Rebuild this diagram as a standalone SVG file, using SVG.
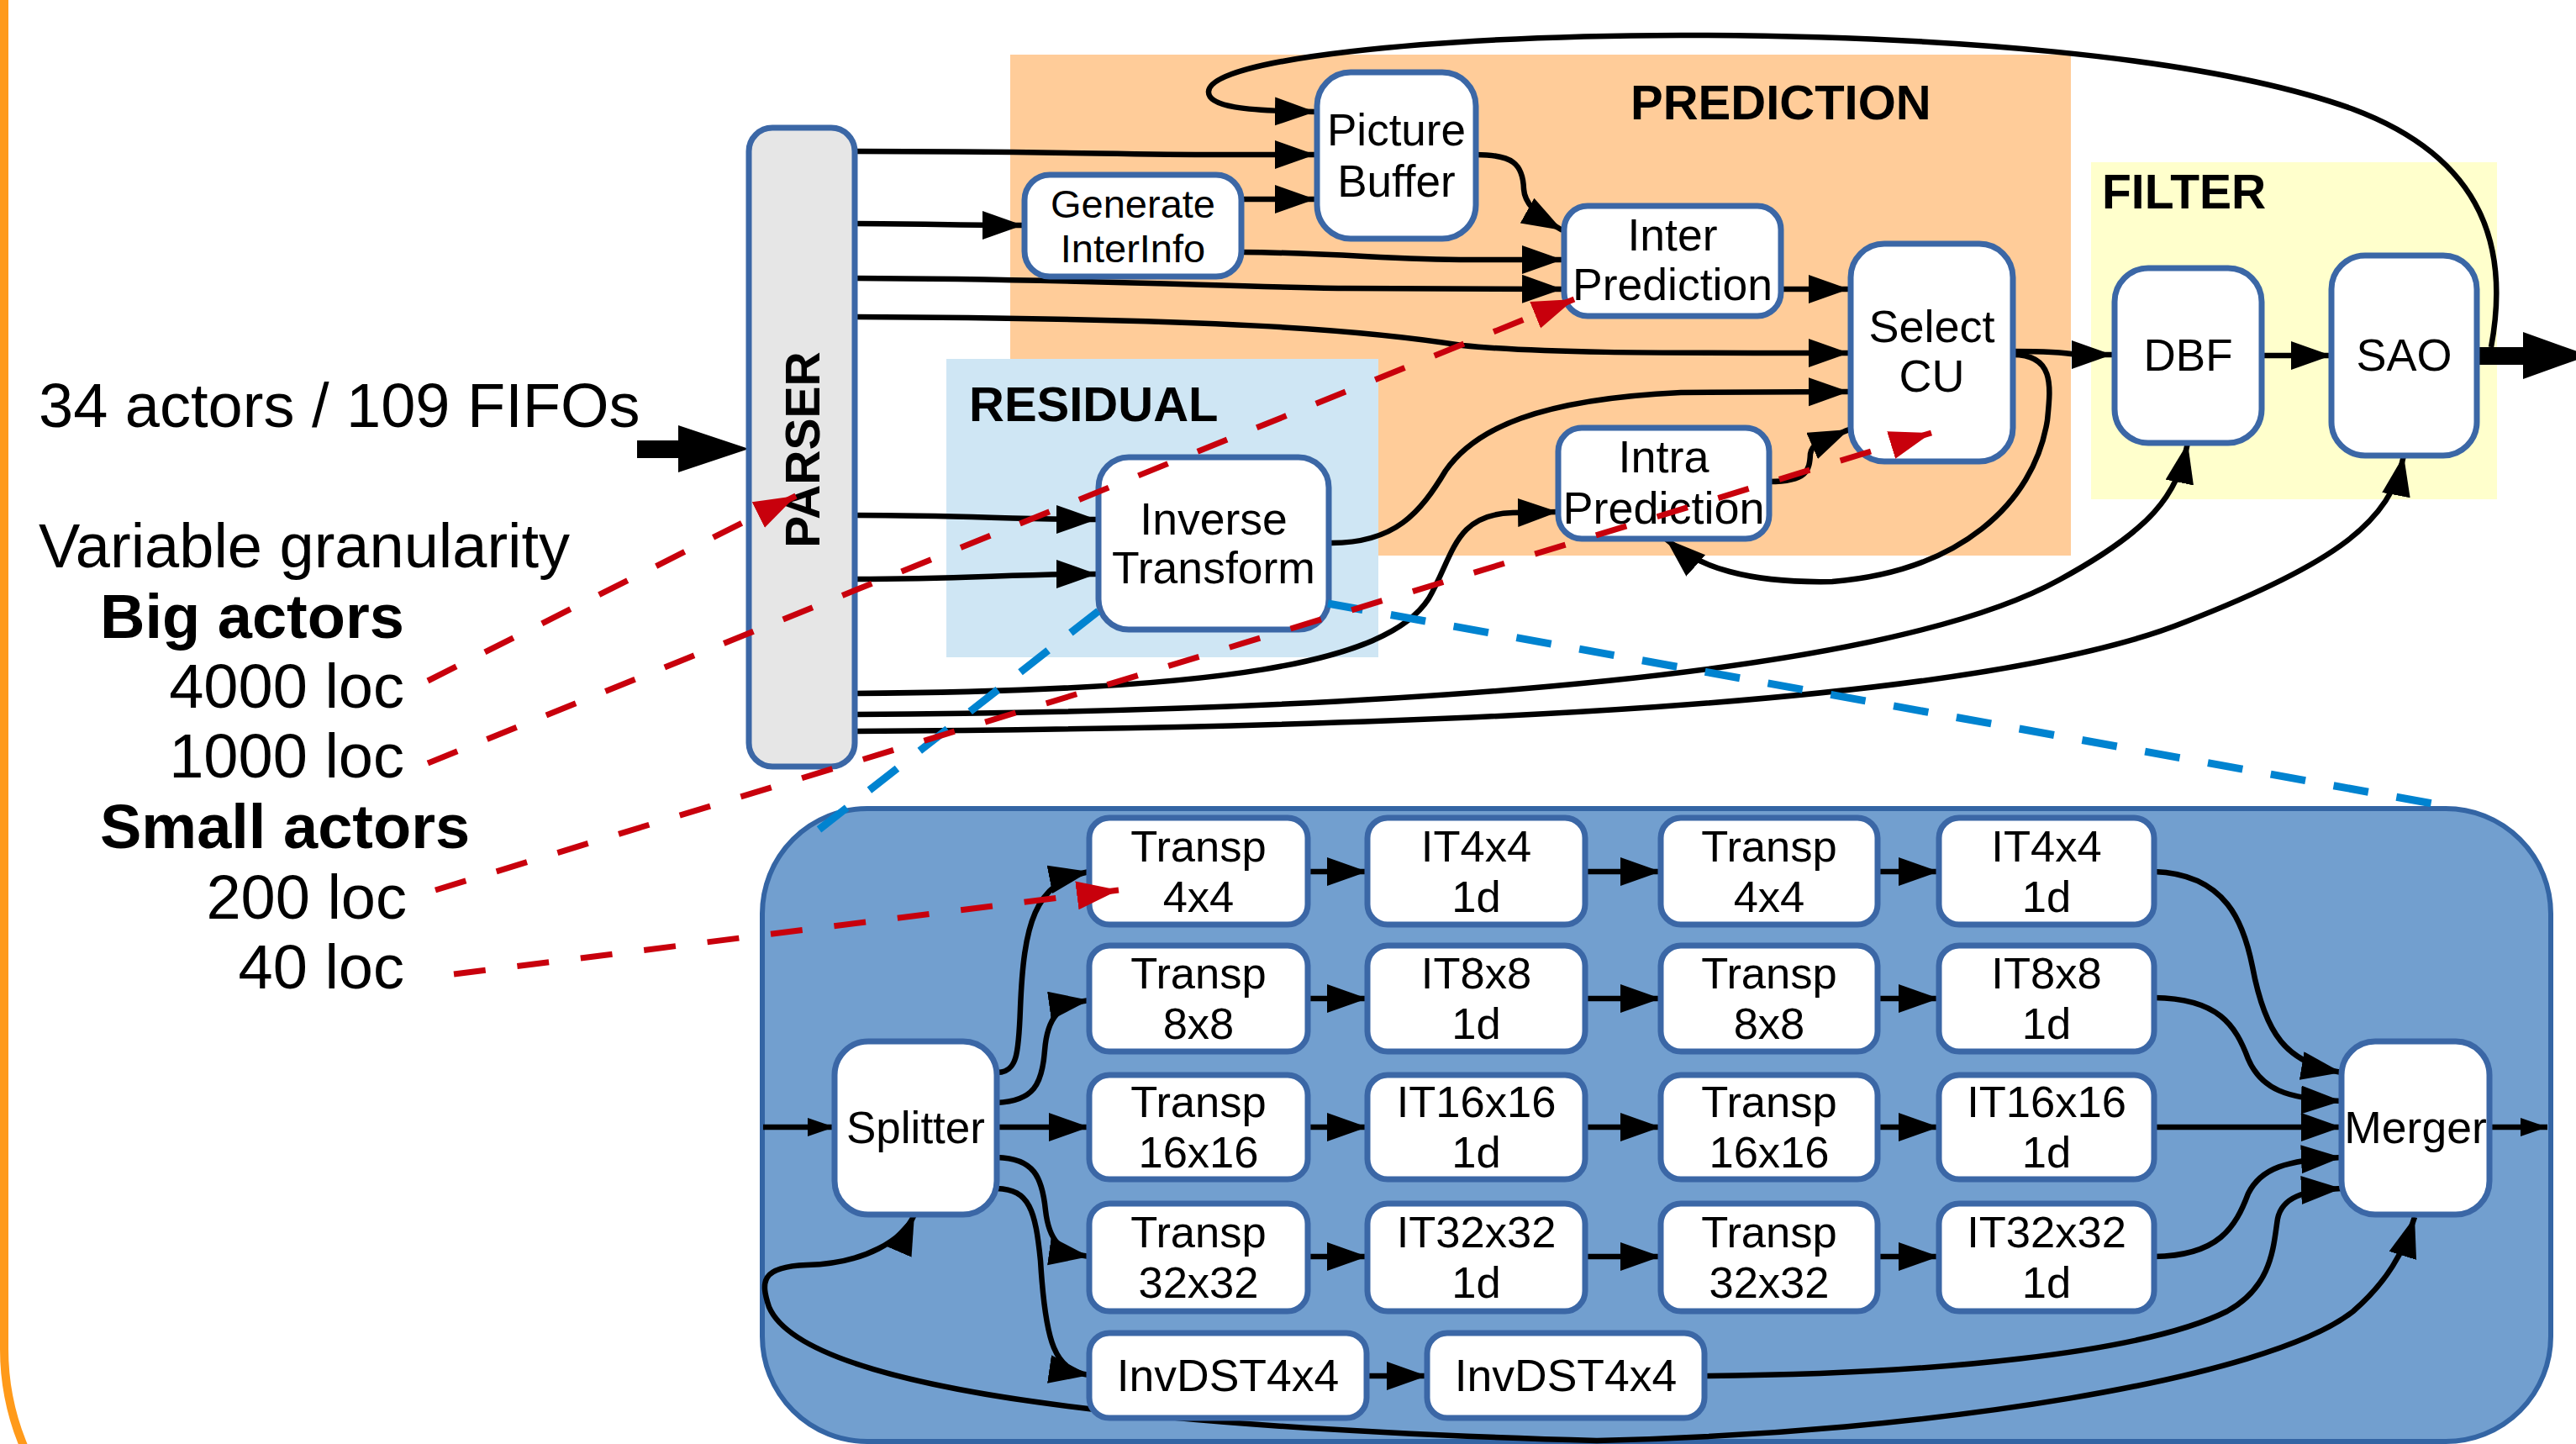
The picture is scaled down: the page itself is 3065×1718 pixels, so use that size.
<svg xmlns="http://www.w3.org/2000/svg" width="3065" height="1718" viewBox="0 0 3065 1718">
<defs>
<style>
.t{font-family:'Liberation Sans',Arial,sans-serif;fill:#000}
.b{font-weight:bold}
.n rect{fill:#fff;stroke:#3b67a6;stroke-width:7}
.n text{font-family:'Liberation Sans',Arial,sans-serif;fill:#000;text-anchor:middle}
.c path{fill:none;stroke:#000;stroke-width:6.5;marker-end:url(#ah)}
.red{fill:none;stroke:#c8000c;stroke-width:7;stroke-dasharray:38 38;marker-end:url(#ahr)}
.blue{fill:none;stroke:#0083d0;stroke-width:9;stroke-dasharray:42 34}
</style>
<marker id="ah" markerUnits="userSpaceOnUse" markerWidth="50" markerHeight="36" refX="48" refY="17" orient="auto"><path d="M0,0 L48,17 L0,34 z" fill="#000"/></marker>
<marker id="ahs" markerUnits="userSpaceOnUse" markerWidth="34" markerHeight="24" refX="32" refY="11" orient="auto"><path d="M0,0 L32,11 L0,22 z" fill="#000"/></marker>
<marker id="ahd" markerUnits="userSpaceOnUse" markerWidth="50" markerHeight="36" refX="48" refY="17" orient="auto-start-reverse"><path d="M0,0 L48,17 L0,34 z" fill="#000"/></marker>
<marker id="ahr" markerUnits="userSpaceOnUse" markerWidth="52" markerHeight="36" refX="50" refY="17" orient="auto"><path d="M0,0 L50,17 L0,34 z" fill="#c8000c"/></marker>
</defs>
<rect width="3065" height="1718" fill="#fff"/>
<rect x="5" y="-600" width="4000" height="2505" rx="300" fill="none" stroke="#ff9a1a" stroke-width="10"/>

<g id="regions">
<rect id="prediction" x="1202" y="65" width="1262" height="596" fill="#ffcc99"/>
<rect id="residual" x="1126" y="427" width="514" height="355" fill="#cfe6f4"/>
<rect id="filter" x="2488" y="193" width="483" height="401" fill="#ffffcc"/>
<rect id="it-panel" x="907" y="962" width="2128" height="753" rx="125" fill="#729fcf" stroke="#3465a4" stroke-width="6"/>
<text class="t b" x="1940" y="142" font-size="58">PREDICTION</text>
<text class="t b" x="1153" y="501" font-size="58">RESIDUAL</text>
<text class="t b" x="2501" y="248" font-size="57">FILTER</text>
</g>

<g id="legend">
<text class="t" x="46" y="508" font-size="74">34 actors / 109 FIFOs</text>
<text class="t" x="46" y="675" font-size="74">Variable granularity</text>
<text class="t b" x="119" y="759" font-size="74">Big actors</text>
<text class="t" x="481" y="842" font-size="74" text-anchor="end">4000 loc</text>
<text class="t" x="481" y="925" font-size="74" text-anchor="end">1000 loc</text>
<text class="t b" x="119" y="1009" font-size="74">Small actors</text>
<text class="t" x="484" y="1093" font-size="74" text-anchor="end">200 loc</text>
<text class="t" x="481" y="1176" font-size="74" text-anchor="end">40 loc</text>
</g>

<g id="connectors" class="c">
<polygon points="758,524 807,524 807,506 891,534 807,562 807,545 758,545" fill="#000"/>
<polygon points="2947,413 3002,413 3002,395 3080,423 3002,451 3002,434 2947,434" fill="#000"/>
<path d="M1017,180 C1250,180 1330,184 1450,184 L1565,184"/>
<path d="M1017,266 C1100,266 1130,268 1217,268"/>
<path d="M1017,331 C1300,332 1450,341 1600,343 L1859,344"/>
<path d="M1017,377 C1450,379 1620,392 1740,411 C1830,420 1950,420 2200,420"/>
<path d="M1017,613 C1150,613 1200,618 1305,618"/>
<path d="M1017,689 C1150,689 1200,683 1305,683"/>
<path d="M1017,825 C1450,822 1650,790 1700,712 C1730,660 1730,612 1800,610 L1854,609"/>
<path d="M1017,850 C1700,846 2250,800 2450,690 C2560,630 2590,590 2603,527"/>
<path d="M1017,870 C1700,866 2350,840 2600,740 C2780,670 2845,620 2860,542"/>
<path d="M1477,237 L1565,237"/>
<path d="M1477,300 C1600,301 1650,309 1750,309 L1859,309"/>
<path d="M1756,184 C1800,184 1812,195 1813,225 C1814,240 1825,255 1859,274"/>
<path d="M2119,344 L2200,344"/>
<path d="M1584,646 C1660,646 1690,610 1720,560 C1755,510 1830,475 2000,467 L2200,466"/>
<path d="M2105,573 C2150,573 2153,560 2154,540 C2156,525 2175,522 2200,511"/>
<path d="M2395,418 C2440,418 2460,420 2470,422 L2513,422"/>
<path d="M2395,422 C2445,422 2440,460 2436,500 C2420,600 2330,680 2180,692 C2080,694 2020,675 1982,641"/>
<path d="M2691,423 L2774,423"/>
<path d="M2964,413 C2985,300 2960,190 2800,130 C2620,65 2300,42 2000,42 C1700,43 1440,70 1438,109 C1437,127 1480,132 1565,133"/>
<path d="M908,1341 L993,1341" style="marker-end:url(#ahs)"/>
<path d="M1186,1276 C1210,1276 1212,1255 1214,1200 C1218,1100 1230,1050 1296,1037"/>
<path d="M1186,1312 C1230,1310 1240,1290 1243,1250 C1246,1210 1260,1195 1296,1190"/>
<path d="M1186,1341 L1296,1341"/>
<path d="M1186,1377 C1230,1378 1240,1400 1244,1440 C1248,1475 1260,1490 1296,1495"/>
<path d="M1186,1414 C1225,1415 1232,1440 1238,1500 C1244,1600 1255,1630 1296,1636"/>
<path d="M1556,1037 L1627,1037"/>
<path d="M1886,1037 L1976,1037"/>
<path d="M2234,1037 L2307,1037"/>
<path d="M1556,1188 L1627,1188"/>
<path d="M1886,1188 L1976,1188"/>
<path d="M2234,1188 L2307,1188"/>
<path d="M1556,1341 L1627,1341"/>
<path d="M1886,1341 L1976,1341"/>
<path d="M2234,1341 L2307,1341"/>
<path d="M1556,1495 L1627,1495"/>
<path d="M1886,1495 L1976,1495"/>
<path d="M2234,1495 L2307,1495"/>
<path d="M1626,1637 L1698,1637"/>
<path d="M2563,1037 C2650,1040 2670,1100 2680,1150 C2695,1230 2720,1265 2786,1276"/>
<path d="M2563,1187 C2640,1188 2660,1220 2675,1260 C2690,1295 2720,1308 2786,1310"/>
<path d="M2563,1341 L2786,1341"/>
<path d="M2563,1495 C2640,1494 2660,1460 2675,1420 C2690,1390 2720,1380 2786,1377"/>
<path d="M2028,1637 C2300,1635 2550,1610 2650,1560 C2705,1530 2705,1480 2710,1450 C2715,1425 2740,1416 2786,1414"/>
<path d="M2962,1341 L3031,1341" style="marker-end:url(#ahs)"/>
<path d="M1088,1445 C1075,1475 1030,1503 960,1505 C905,1507 905,1525 915,1555 C960,1660 1400,1700 1900,1714 C2300,1705 2700,1640 2800,1560 C2840,1525 2860,1490 2873,1448" style="marker-start:url(#ahd);marker-end:url(#ahd)"/>
</g>

<g id="parser" class="n"><rect x="891" y="152" width="126" height="760" rx="28" style="fill:#e6e6e6"/><text x="975" y="535" transform="rotate(-90 975 535)" font-size="57" font-weight="bold">PARSER</text></g>
<g id="picture-buffer" class="n"><rect x="1567" y="86" width="189" height="198" rx="40"/><text x="1661.5" y="173" font-size="53">Picture</text><text x="1661.5" y="234" font-size="53">Buffer</text></g>
<g id="generate-interinfo" class="n"><rect x="1219" y="208" width="258" height="121" rx="30"/><text x="1348" y="259" font-size="47">Generate</text><text x="1348" y="312" font-size="47">InterInfo</text></g>
<g id="inter-prediction" class="n"><rect x="1861" y="245" width="258" height="131" rx="28"/><text x="1990" y="298" font-size="53.5">Inter</text><text x="1990" y="357" font-size="53.5">Prediction</text></g>
<g id="intra-prediction" class="n"><rect x="1854" y="509" width="251" height="132" rx="28"/><text x="1979.5" y="562" font-size="54">Intra</text><text x="1979.5" y="623" font-size="54">Prediction</text></g>
<g id="select-cu" class="n"><rect x="2202" y="290" width="193" height="259" rx="40"/><text x="2298.5" y="407" font-size="54">Select</text><text x="2298.5" y="466" font-size="54">CU</text></g>
<g id="inverse-transform" class="n"><rect x="1307" y="544" width="274" height="205" rx="36"/><text x="1444" y="636" font-size="53.5">Inverse</text><text x="1444" y="694" font-size="53.5">Transform</text></g>
<g id="dbf" class="n"><rect x="2516" y="319" width="175" height="208" rx="40"/><text x="2603.5" y="441" font-size="53">DBF</text></g>
<g id="sao" class="n"><rect x="2774" y="304" width="173" height="238" rx="40"/><text x="2860.5" y="441" font-size="54">SAO</text></g>

<g id="splitter" class="n"><rect x="993" y="1239" width="193" height="206" rx="40"/><text x="1089.5" y="1360" font-size="53">Splitter</text></g>
<g id="merger" class="n"><rect x="2786" y="1239" width="176" height="206" rx="40"/><text x="2874" y="1360" font-size="53.5">Merger</text></g>
<g id="transp-4x4-a" class="n"><rect x="1296" y="973" width="260" height="127" rx="24"/><text x="1426" y="1025" font-size="52.5">Transp</text><text x="1426" y="1085" font-size="52.5">4x4</text></g>
<g id="it4x4-1d-a" class="n"><rect x="1627" y="973" width="259" height="127" rx="24"/><text x="1756.5" y="1025" font-size="52.5">IT4x4</text><text x="1756.5" y="1085" font-size="52.5">1d</text></g>
<g id="transp-4x4-b" class="n"><rect x="1976" y="973" width="258" height="127" rx="24"/><text x="2105" y="1025" font-size="52.5">Transp</text><text x="2105" y="1085" font-size="52.5">4x4</text></g>
<g id="it4x4-1d-b" class="n"><rect x="2307" y="973" width="256" height="127" rx="24"/><text x="2435" y="1025" font-size="52.5">IT4x4</text><text x="2435" y="1085" font-size="52.5">1d</text></g>
<g id="transp-8x8-a" class="n"><rect x="1296" y="1125" width="260" height="126" rx="24"/><text x="1426" y="1176" font-size="52.5">Transp</text><text x="1426" y="1236" font-size="52.5">8x8</text></g>
<g id="it8x8-1d-a" class="n"><rect x="1627" y="1125" width="259" height="126" rx="24"/><text x="1756.5" y="1176" font-size="52.5">IT8x8</text><text x="1756.5" y="1236" font-size="52.5">1d</text></g>
<g id="transp-8x8-b" class="n"><rect x="1976" y="1125" width="258" height="126" rx="24"/><text x="2105" y="1176" font-size="52.5">Transp</text><text x="2105" y="1236" font-size="52.5">8x8</text></g>
<g id="it8x8-1d-b" class="n"><rect x="2307" y="1125" width="256" height="126" rx="24"/><text x="2435" y="1176" font-size="52.5">IT8x8</text><text x="2435" y="1236" font-size="52.5">1d</text></g>
<g id="transp-16x16-a" class="n"><rect x="1296" y="1279" width="260" height="124" rx="24"/><text x="1426" y="1329" font-size="52.5">Transp</text><text x="1426" y="1389" font-size="52.5">16x16</text></g>
<g id="it16x16-1d-a" class="n"><rect x="1627" y="1279" width="259" height="124" rx="24"/><text x="1756.5" y="1329" font-size="52.5">IT16x16</text><text x="1756.5" y="1389" font-size="52.5">1d</text></g>
<g id="transp-16x16-b" class="n"><rect x="1976" y="1279" width="258" height="124" rx="24"/><text x="2105" y="1329" font-size="52.5">Transp</text><text x="2105" y="1389" font-size="52.5">16x16</text></g>
<g id="it16x16-1d-b" class="n"><rect x="2307" y="1279" width="256" height="124" rx="24"/><text x="2435" y="1329" font-size="52.5">IT16x16</text><text x="2435" y="1389" font-size="52.5">1d</text></g>
<g id="transp-32x32-a" class="n"><rect x="1296" y="1432" width="260" height="128" rx="24"/><text x="1426" y="1484" font-size="52.5">Transp</text><text x="1426" y="1544" font-size="52.5">32x32</text></g>
<g id="it32x32-1d-a" class="n"><rect x="1627" y="1432" width="259" height="128" rx="24"/><text x="1756.5" y="1484" font-size="52.5">IT32x32</text><text x="1756.5" y="1544" font-size="52.5">1d</text></g>
<g id="transp-32x32-b" class="n"><rect x="1976" y="1432" width="258" height="128" rx="24"/><text x="2105" y="1484" font-size="52.5">Transp</text><text x="2105" y="1544" font-size="52.5">32x32</text></g>
<g id="it32x32-1d-b" class="n"><rect x="2307" y="1432" width="256" height="128" rx="24"/><text x="2435" y="1484" font-size="52.5">IT32x32</text><text x="2435" y="1544" font-size="52.5">1d</text></g>
<g id="invdst-a" class="n"><rect x="1296" y="1586" width="330" height="101" rx="24"/><text x="1461" y="1655" font-size="53.5">InvDST4x4</text></g>
<g id="invdst-b" class="n"><rect x="1698" y="1586" width="330" height="101" rx="24"/><text x="1863" y="1655" font-size="53.5">InvDST4x4</text></g>

<g id="zoom-lines">
<path class="blue" d="M1307,727 L968,992"/>
<path class="blue" d="M1580,718 L2905,958"/>
</g>
<g id="granularity-links">
<path class="red" d="M509,810 L947,590"/>
<path class="red" d="M509,908 L1873,356"/>
<path class="red" d="M518,1059 L2298,515"/>
<path class="red" d="M540,1159 L1331,1059"/>
</g>
</svg>
